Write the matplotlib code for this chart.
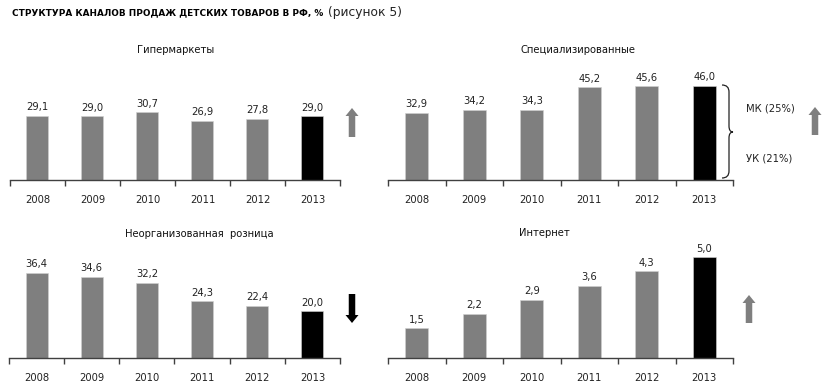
import matplotlib
matplotlib.use("Agg")
import matplotlib.pyplot as plt
from matplotlib.patches import FancyArrow, PathPatch
from matplotlib.path import Path

plt.rcParams['font.family'] = ['DejaVu Sans']

years = ["2008", "2009", "2010", "2011", "2012", "2013"]
hyper = [29.1, 29.0, 30.7, 26.9, 27.8, 29.0]
special = [32.9, 34.2, 34.3, 45.2, 45.6, 46.0]
unorg = [36.4, 34.6, 32.2, 24.3, 22.4, 20.0]
internet = [1.5, 2.2, 2.9, 3.6, 4.3, 5.0]

titles = ["Гипермаркеты", "Специализированные", "Неорганизованная  розница", "Интернет"]

W, H = 834, 392
fig = plt.figure(figsize=(W / 100, H / 100), dpi=100)


def rect(l, r, top, bot):
    return [l / W, 1 - bot / H, (r - l) / W, (bot - top) / H]


panels = [
    (hyper, rect(10, 340, 60, 180), 54.5),
    (special, rect(388, 733, 60, 180), 58.5),
    (unorg, rect(9, 340, 240, 358.3), 50.3),
    (internet, rect(388, 733, 240, 358.3), 5.86),
]

GRAY = "#7f7f7f"
AXC = "#404040"
for vals, r, ytop in panels:
    ax = fig.add_axes(r)
    x = list(range(len(years)))
    colors = [GRAY] * (len(years) - 1) + ["black"]
    ax.bar(x, vals, width=0.4, color=colors, edgecolor="#d0d0d0", linewidth=0.4)
    for xi, v in zip(x, vals):
        ax.annotate(f"{v:.1f}".replace(".", ","), (xi, v), xytext=(0, 2.5),
                    textcoords="offset points", ha="center", va="bottom",
                    fontsize=7.2, color="#222222")
    ax.set_xlim(-0.5, len(years) - 0.5)
    ax.set_ylim(0, ytop)
    for s in ["top", "right", "left"]:
        ax.spines[s].set_visible(False)
    ax.spines["bottom"].set_color(AXC)
    ax.spines["bottom"].set_linewidth(1.0)
    ax.set_yticks([])
    ax.set_xticks([i - 0.5 for i in range(len(years) + 1)])
    ax.set_xticklabels([])
    ax.tick_params(axis="x", which="major", length=4, width=1, color=AXC, direction="out")
    ax.set_xticks(x, minor=True)
    ax.set_xticklabels(years, minor=True, fontsize=7.2, color="#222222")
    ax.tick_params(axis="x", which="minor", length=0, pad=10.5)
    ax.patch.set_alpha(0)

# overlay in pixel coordinates
ov = fig.add_axes([0, 0, 1, 1])
ov.set_xlim(0, W)
ov.set_ylim(H, 0)
ov.axis("off")
ov.patch.set_alpha(0)

# main title
t1 = ov.text(12, 13, "СТРУКТУРА КАНАЛОВ ПРОДАЖ ДЕТСКИХ ТОВАРОВ В РФ, %", fontsize=6.4,
             fontweight="heavy", ha="left", va="center", color="black")
fig.canvas.draw()
bb = t1.get_window_extent()
ov.text(bb.x1 + 5, 12, "(рисунок 5)", fontsize=8.8, ha="left", va="center", color="#222222")

# panel titles
title_pos = [(176, 50), (578, 50), (199, 234), (544, 233)]
for t, (px, py) in zip(titles, title_pos):
    ov.text(px, py, t, fontsize=7.2, ha="center", va="center", color="#111111")

# arrows
def arrow(x, y0, y1, color):
    ov.add_patch(FancyArrow(x, y0, 0, y1 - y0, width=6.5, head_width=13, head_length=8,
                            length_includes_head=True, color=color, lw=0))

arrow(352, 137, 108, GRAY)
arrow(815, 135, 107, GRAY)
arrow(749, 323, 295, GRAY)
arrow(352, 294, 323, "black")

# brace
verts = [(722, 85), (729, 85), (729, 92),
         (729, 126),
         (729, 132), (733, 132),
         (729, 132), (729, 138),
         (729, 171),
         (729, 178), (722, 178)]
codes = [Path.MOVETO, Path.CURVE3, Path.CURVE3,
         Path.LINETO,
         Path.CURVE3, Path.CURVE3,
         Path.CURVE3, Path.CURVE3,
         Path.LINETO,
         Path.CURVE3, Path.CURVE3]
ov.add_patch(PathPatch(Path(verts, codes), fill=False, lw=0.9, color="#222222"))
ov.text(746, 108, "МК (25%)", fontsize=7.2, ha="left", va="center", color="#222222")
ov.text(746, 158, "УК (21%)", fontsize=7.2, ha="left", va="center", color="#222222")

fig.savefig("out.png", dpi=100)
